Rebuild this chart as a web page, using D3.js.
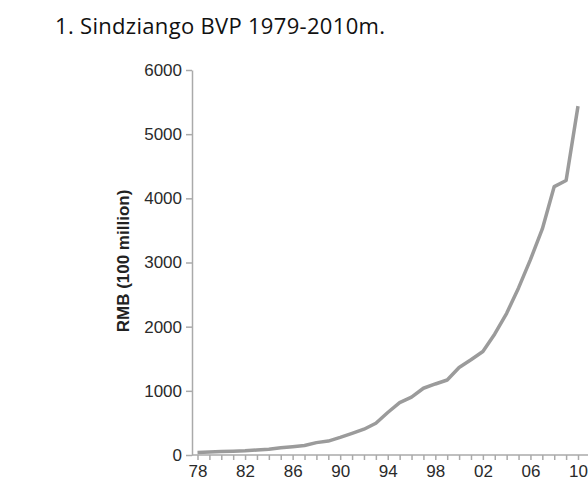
<!DOCTYPE html>
<html>
<head>
<meta charset="utf-8">
<script src="https://cdn.jsdelivr.net/npm/d3@7"></script>
<style>
  body { margin: 0; background: #fff; }
  .axis text { font-family: "Liberation Sans", Arial, sans-serif; font-size: 17px; fill: #2a2a2a; }
  .axis line, .axis path { stroke: #aaa; stroke-width: 1.5; }
</style>
</head>
<body>
<svg width="588" height="482"></svg>
<script>
// Xinjiang GDP, 100 million RMB
var years = [1978, 1979, 1980, 1981, 1982, 1983, 1984, 1985, 1986, 1987, 1988,
             1989, 1990, 1991, 1992, 1993, 1994, 1995, 1996, 1997, 1998, 1999,
             2000, 2001, 2002, 2003, 2004, 2005, 2006, 2007, 2008, 2009, 2010];
var gdp = [39, 46, 53, 59, 65, 79, 90, 112, 129, 149, 193,
           217, 274, 336, 402, 495, 662, 815, 901, 1040, 1107, 1169,
           1364, 1485, 1613, 1886, 2209, 2604, 3045, 3523, 4183, 4277, 5437];
var yTicks = [0, 1000, 2000, 3000, 4000, 5000, 6000];
var xLabelYears = [1978, 1982, 1986, 1990, 1994, 1998, 2002, 2006, 2010];

var svg = d3.select("svg"),
    width = +svg.attr("width"),
    height = +svg.attr("height");

var plotLeft = 192, plotBottom = 455, plotTop = 70;

var x = d3.scaleLinear()
        .domain([1978, 2010])
        .range([197.5, 578]);

var y = d3.scaleLinear()
        .domain([0, 6000])
        .range([plotBottom, plotTop]);

// title
svg.append("text")
        .attr("x", 55)
        .attr("y", 34)
        .attr("textLength", 330)
        .style("font-family", "'Open Sans', sans-serif")
        .style("font-size", "22px")
        .style("fill", "#111")
        .text("1. Sindziango BVP 1979-2010m.");

// y axis
svg.append("g")
        .attr("class", "axis")
        .attr("transform", "translate(" + plotLeft + ",0)")
        .call(d3.axisLeft(y)
                .tickValues(yTicks)
                .tickSize(6)
                .tickSizeOuter(0)
                .tickPadding(4)
                .tickFormat(d3.format("d")));

// x axis, one tick per year, labels every 4 years
var xAxis = svg.append("g")
        .attr("class", "axis")
        .attr("transform", "translate(0," + plotBottom + ")")
        .call(d3.axisBottom(x)
                .tickValues(years)
                .tickSize(5)
                .tickSizeOuter(0)
                .tickPadding(5)
                .tickFormat(function (d) {
                    return xLabelYears.indexOf(d) >= 0 ? String(d).slice(2) : "";
                }));
// stretch the baseline from the y axis to the right edge
xAxis.select(".domain").attr("d", "M" + plotLeft + ",0H" + width);

// axis title
svg.append("text")
        .attr("transform", "translate(129,261) rotate(-90)")
        .style("text-anchor", "middle")
        .style("font-family", "'Liberation Sans', Arial, sans-serif")
        .style("font-weight", "bold")
        .style("font-size", "17px")
        .style("fill", "#222")
        .text("RMB (100 million)");

// GDP line
var line = d3.line()
        .x(function (d, i) { return x(years[i]); })
        .y(function (d) { return y(d); });

svg.append("path")
        .datum(gdp)
        .attr("d", line)
        .style("fill", "none")
        .style("stroke", "#9b9b9b")
        .style("stroke-width", 3.5)
        .style("stroke-linejoin", "round");
</script>
</body>
</html>
